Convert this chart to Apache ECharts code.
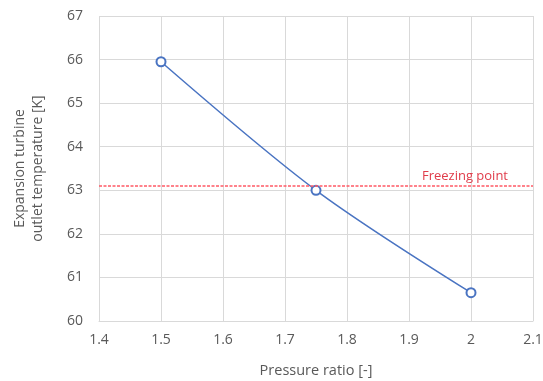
<!DOCTYPE html>
<html><head><meta charset="utf-8">
<script src="https://cdn.jsdelivr.net/npm/echarts@6/dist/echarts.min.js"></script>
<style>html,body{margin:0;padding:0;background:#fff}#c{width:543px;height:381px}</style>
</head><body><div id="c"></div>
<script>
const pressureRatio = [1.5, 1.75, 2.0];
const outletTemp = [65.95, 63.0, 60.65];
const freezingPoint = 63.1;
const freezingLabel = 'Freezing point';
const xTitle = 'Pressure ratio [-]';
const yTitle = 'Expansion turbine\noutlet temperature [K]';

const chart = echarts.init(document.getElementById('c'), null, {renderer: 'canvas'});
const font = '"Open Sans", "Liberation Sans", sans-serif';
chart.setOption({
  animation: false,
  textStyle: {fontFamily: font},
  grid: {left: 99, right: 10, top: 16, bottom: 60, containLabel: false, outerBoundsMode: 'none'},
  xAxis: {
    type: 'value', min: 1.4, max: 2.1, interval: 0.1,
    name: xTitle, nameLocation: 'middle', nameGap: 42,
    nameTextStyle: {color: '#595959', fontSize: 14.5, fontFamily: font},
    axisLine: {show: true, lineStyle: {color: '#d9d9d9'}},
    axisTick: {show: false},
    axisLabel: {color: '#595959', fontSize: 14, margin: 12, fontFamily: font,
      formatter: v => String(Math.round(v * 10) / 10)},
    splitLine: {show: true, lineStyle: {color: '#d9d9d9'}}
  },
  yAxis: {
    type: 'value', min: 60, max: 67, interval: 1,
    name: yTitle, nameLocation: 'middle', nameGap: 52, nameRotate: 90,
    nameTextStyle: {color: '#595959', fontSize: 14, lineHeight: 18, fontFamily: font},
    axisLine: {show: false},
    axisTick: {show: false},
    axisLabel: {color: '#595959', fontSize: 14, margin: 16, fontFamily: font},
    splitLine: {show: true, lineStyle: {color: '#d9d9d9'}}
  },
  series: [{
    type: 'line', z: 1, data: [], color: '#ec4452',
    markLine: {
      silent: true, symbol: ['none', 'none'],
      lineStyle: {color: '#ff5a66', type: [3, 1.5], width: 1.5, opacity: 1},
      emphasis: {disabled: true},
      label: {show: true, position: 'insideEndTop', formatter: freezingLabel,
        color: '#e03c4a', fontSize: 13, fontFamily: font, distance: [25, 3]},
      data: [{yAxis: freezingPoint}]
    }
  }, {
    type: 'line', z: 3,
    data: pressureRatio.map((x, i) => [x, outletTemp[i]]),
    smooth: 0.3,
    symbol: 'emptyCircle', symbolSize: 9,
    lineStyle: {color: '#4a74c2', width: 1.5},
    itemStyle: {color: '#4a74c2', borderColor: '#4a74c2', borderWidth: 2}
  }]
});
</script></body></html>
